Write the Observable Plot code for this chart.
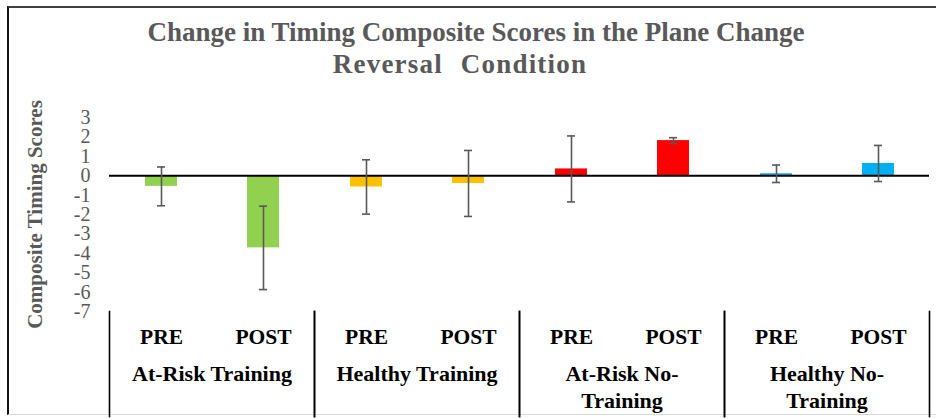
<!DOCTYPE html>
<html>
<head>
<meta charset="utf-8">
<script src="https://cdn.jsdelivr.net/npm/d3@7"></script>
<script src="https://cdn.jsdelivr.net/npm/@observablehq/plot@0.6"></script>
<style>
  html, body { margin: 0; padding: 0; background: #fff; }
  #wrap { position: relative; width: 936px; height: 418px; overflow: hidden; font-family: "Liberation Serif", "Times New Roman", serif; }
  #border { position: absolute; left: 7px; top: 6px; width: 940px; height: 409px; border-top: 2px solid #404040; border-left: 2px solid #111; border-bottom: 1px solid #d9d9d9; box-sizing: border-box; }
  .t { position: absolute; font-weight: bold; color: #595959; font-size: 27px; white-space: nowrap; transform: translateX(-50%); line-height: 1; }
  #chart { position: absolute; left: 0; top: 80px; }
</style>
</head>
<body>
<div id="wrap">
  <div id="border"></div>
  <div class="t" style="left:476px; top:19px;">Change in Timing Composite Scores in the Plane Change</div>
  <div class="t" style="left:460px; top:51px; letter-spacing:1.2px; word-spacing:10px;">Reversal Condition</div>
  <div id="chart"></div>
</div>
<script>
const groups = ["At-Risk Training", "Healthy Training", "At-Risk No-Training", "Healthy No-Training"];
const groupLabels = ["At-Risk Training", "Healthy Training", "At-Risk No-\nTraining", "Healthy No-\nTraining"];
const times = ["PRE", "POST"];
const means = [-0.55, -3.72, -0.58, -0.40, 0.35, 1.81, 0.10, 0.63];
const errors = [1.00, 2.15, 1.40, 1.70, 1.70, 0.15, 0.45, 0.93];
const groupColors = ["#92D050", "#FFC000", "#FF0000", "#00B0F0"];
const yTicks = [3, 2, 1, 0, -1, -2, -3, -4, -5, -6, -7];
const yLabel = "Composite Timing Scores";

const data = [];
groups.forEach((g, gi) => times.forEach((t, ti) => {
  const i = gi * 2 + ti;
  data.push({group: g, time: t, mean: means[i], lo: means[i] - errors[i], hi: means[i] + errors[i]});
}));

const chart = Plot.plot({
  width: 936,
  height: 338,
  marginLeft: 107,
  marginRight: 6,
  marginTop: 37,
  marginBottom: 107,
  style: {fontFamily: "Liberation Serif, Times New Roman, serif", background: "transparent", overflow: "visible"},
  fx: {domain: groups, padding: 0},
  x: {domain: times, paddingInner: 0.69, paddingOuter: 0.345},
  y: {domain: [-7, 3]},
  color: {domain: groups, range: groupColors},
  marks: [
    Plot.barY(data, {fx: "group", x: "time", y: "mean", fill: "group"}),
    Plot.ruleY([0], {stroke: "#000", strokeWidth: 2}),
    Plot.ruleX(data, {fx: "group", x: "time", y1: "lo", y2: "hi", stroke: "#595959", strokeWidth: 1.6}),
    Plot.tickY(data, {fx: "group", x: "time", y: "lo", stroke: "#595959", strokeWidth: 1.6, insetLeft: 12, insetRight: 12}),
    Plot.tickY(data, {fx: "group", x: "time", y: "hi", stroke: "#595959", strokeWidth: 1.6, insetLeft: 12, insetRight: 12}),
    Plot.frame({anchor: "left", stroke: "#000", strokeWidth: 1.6, insetTop: 194, insetBottom: -105}),
    Plot.frame({anchor: "right", stroke: "#000", strokeWidth: 1.6, insetTop: 194, insetBottom: -105}),
    Plot.axisY({ticks: yTicks, tickSize: 0, tickPadding: 19, tickFormat: d => String(d), fontSize: 20, color: "#595959", label: null}),
    Plot.text([yLabel], {fx: () => groups[0], frameAnchor: "left", text: d => d, rotate: -90, textAnchor: "middle", dx: -74, dy: 0, fontSize: 21, fontWeight: "bold", fill: "#595959"}),
    Plot.axisX({tickSize: 0, tickPadding: 17, fontSize: 21.5, fontWeight: "bold", color: "#000", label: null}),
    Plot.axisFx({anchor: "bottom", tickSize: 0, tickPadding: 51, fontSize: 22, fontWeight: "bold", color: "#000", lineHeight: 1.2, label: null,
      tickFormat: d => groupLabels[groups.indexOf(d)]})
  ]
});
document.getElementById("chart").appendChild(chart);
</script>
</body>
</html>
